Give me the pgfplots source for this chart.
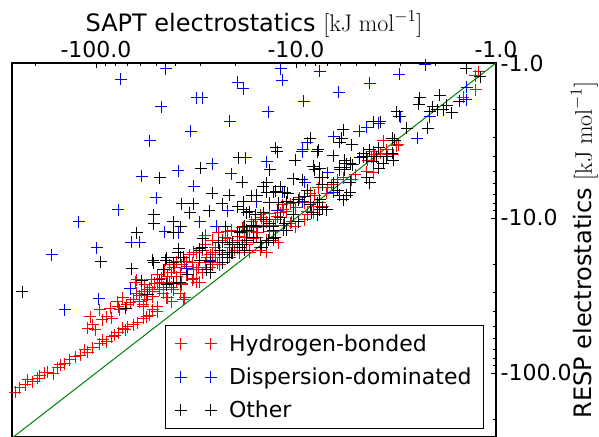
\documentclass[border=0pt]{standalone}
\usepackage{fix-cm}
\usepackage[no-math]{fontspec}
\setmainfont{DejaVu Sans}
\usepackage{pgfplots}
\pgfplotsset{compat=1.18}
\definecolor{mplgreen}{rgb}{0,0.5,0}
\newcommand\mplfont{\fontsize{16.5pt}{19.8pt}\selectfont}
\newcommand\mpllabelfont{\fontsize{18pt}{21.6pt}\selectfont}

% magnitudes of the electrostatic energies (kJ/mol): SAPT, RESP
\pgfplotstableread{
sapt resp
254 133
240 125
226 119
219 111
207 114
195 108
191 104.5
180 100
174 98.6
164 101
155 92.9
151 88.7
143 87.5
135 82.4
127 78.9
120 76.6
114 71.1
110 73.3
104 69.0
95.5 65.0
92.3 61.2
88.1 63.1
83.2 58.6
80.4 56.9
77.6 55.2
73.3 51.3
71.6 52.8
69.2 50.5
65.3 49.0
61.7 47.6
58.2 44.2
55.6 43.5
53.7 42.3
51.9 39.2
49.5 40.4
110 51.3
107 43.5
104 49.0
101 52.8
95.5 39.2
93.3 45.5
88.1 43.5
85.1 38.1
83.2 44.2
78.5 34.8
77.6 37.5
75.9 39.2
73.3 32.8
70.0 36.4
67.6 35.3
65.3 33.8
62.4 30.5
60.3 34.8
60.3 31.8
58.2 37.5
56.9 31.4
55.0 29.1
53.7 28.3
51.9 30.0
49.5 26.3
47.9 29.1
47.9 25.9
46.2 27.9
44.2 32.8
43.7 23.7
42.7 25.9
41.2 29.1
40.3 21.0
39.4 24.0
37.2 26.3
35.9 32.8
35.9 19.2
35.1 20.7
33.9 17.3
33.1 19.5
32.7 24.4
31.3 21.6
30.2 25.9
29.2 22.6
28.5 19.5
28.5 14.9
27.9 17.9
26.9 21.0
26.3 13.9
26.0 16.8
25.4 15.6
24.8 19.5
24.0 16.1
23.4 13.9
22.1 18.1
21.9 13.5
21.4 15.4
20.9 12.0
20.7 16.8
19.7 15.6
19.5 13.1
19.1 13.9
18.6 11.6
17.6 14.9
17.0 16.6
17.0 12.3
16.6 10.6
15.8 11.6
15.7 13.3
15.1 15.4
14.8 10.0
14.1 10.6
14.0 13.9
13.5 9.42
13.0 12.3
12.6 10.3
11.7 8.24
11.6 11.1
11.2 9.15
10.7 10.8
10.7 8.12
10.0 8.62
9.55 7.43
9.02 8.00
8.04 7.11
7.76 6.40
6.61 6.12
6.17 5.68
63.8 25.9
62.4 25.1
28.5 12.9
24.5 12.5
22.1 12.3
22.6 13.3
19.7 13.9
19.1 14.9
18.0 13.3
17.4 12.3
17.6 14.5
32.7 16.6
31.3 16.8
29.2 16.1
26.9 17.3
25.4 17.9
24.0 18.1
22.1 16.8
21.4 17.9
20.2 16.1
19.1 16.8
36.7 17.9
35.1 19.2
39.4 19.2
37.2 20.1
42.7 20.1
41.2 21.0
45.2 21.6
41.7 22.6
49.0 23.3
46.8 24.4
52.5 25.1
50.7 26.3
56.9 27.0
58.9 30.0
38.0 22.6
35.1 23.3
32.7 21.6
30.9 21.0
26.0 20.1
24.0 20.1
33.1 25.1
31.3 25.9
39.4 25.9
37.2 27.0
44.2 26.3
41.7 27.9
46.2 30.5
51.9 32.3
55.6 33.8
58.2 36.4
38.0 30.5
36.7 33.8
43.7 32.8
41.7 34.8
49.5 37.5
18.4 11.4
16.0 10.3
15.1 9.56
14.6 11.1
15.5 12.5
16.4 13.5
17.6 13.9
13.5 12.3
13.0 11.1
12.0 9.28
11.6 8.88
10.5 10.6
10.1 11.4
9.02 10.3
8.71 9.56
8.22 9.28
7.59 8.00
7.33 8.49
7.00 6.90
15.1 16.1
14.0 16.6
17.0 16.1
13.0 13.9
12.3 14.5
12.4 9.85
3.67 3.18
3.09 3.38
3.51 3.64
3.27 3.92
3.80 3.81
4.17 4.04
4.37 4.23
4.12 3.75
5.07 5.28
5.82 5.52
5.25 5.68
6.92 6.40
8.51 6.90
8.22 8.49
8.81 9.15
1.22 1.14
1.27 1.21
1.26 1.49
1.46 1.66
4.03 3.92
3.47 3.92
3.13 3.43
4.42 5.05
4.12 5.12
}\hbonded

\pgfplotstableread{
sapt resp
44.7 1.09
75.0 1.27
11.9 1.09
11.7 1.29
19.5 1.33
18.4 1.47
31.3 1.68
29.5 1.68
47.3 1.92
13.8 2.07
21.4 2.37
33.5 2.75
53.7 3.18
17.8 4.10
14.0 4.35
26.3 4.48
38.9 4.97
58.9 5.36
21.1 5.20
32.4 6.22
11.7 6.80
50.1 7.43
15.8 7.88
77.6 8.88
21.9 9.01
12.4 9.01
122 10.6
166 17.3
98.9 15.6
66.8 14.3
60.3 14.3
45.2 12.3
38.9 12.5
96.6 33.3
143 39.2
67.6 28.7
48.4 25.1
35.1 21.3
30.2 10.6
25.1 11.3
20.9 16.8
11.6 12.0
7.59 1.13
4.27 1.35
3.05 1.18
2.26 1.03
6.10 1.54
9.12 1.76
3.02 2.23
3.85 2.44
4.42 2.59
4.84 2.75
6.46 3.00
8.81 3.28
9.23 3.59
2.14 2.23
2.48 3.05
1.40 1.43
1.41 1.73
6.53 6.80
9.02 5.86
9.23 7.88
5.75 4.69
4.62 4.04
9.33 3.75
6.92 5.12
26.9 18.7
}\dispersion

\pgfplotstableread{
sapt resp
12.6 3.53
12.4 3.75
19.3 4.10
10.1 4.23
29.9 4.76
13.5 4.90
47.9 5.52
10.35 5.60
18.6 5.86
14.6 6.31
14.0 6.80
12.6 6.70
12.0 6.31
26.3 6.90
21.6 7.11
16.6 7.21
18.2 7.88
37.2 8.12
32.7 8.12
23.4 8.12
19.5 8.49
13.6 8.00
12.3 8.00
27.2 9.01
33.9 9.28
51.3 9.56
17.6 9.28
14.6 9.28
234 30.0
94.4 19.2
62.4 12.5
51.3 10.9
41.2 10.6
37.6 11.4
41.2 12.5
66.1 21.3
58.9 25.5
51.9 18.7
44.2 18.1
38.5 15.8
38.0 17.9
51.3 19.5
46.2 21.6
30.2 16.1
29.5 15.6
29.2 13.5
22.6 11.4
19.5 12.3
16.4 11.1
14.6 11.3
13.0 11.4
24.3 14.5
21.4 14.9
18.6 14.9
34.7 23.3
44.2 27.0
41.2 26.3
38.0 25.9
55.0 31.4
70.8 38.1
30.2 18.7
26.9 19.2
23.2 17.3
20.7 16.8
16.4 13.3
15.1 14.5
14.0 14.5
13.0 13.5
11.1 12.0
36.7 17.9
18.0 11.3
23.4 14.3
20.7 14.3
30.5 15.8
24.0 16.1
21.4 16.6
44.7 18.7
41.2 19.5
38.9 16.8
27.9 21.6
26.9 22.6
23.2 19.5
22.1 18.1
19.1 12.5
17.6 13.9
6.53 3.98
7.85 3.75
8.22 4.62
7.59 4.76
6.03 4.90
5.62 4.48
9.33 5.68
14.0 5.94
13.0 6.80
15.7 7.11
18.4 8.88
11.4 6.80
11.0 6.90
7.59 5.52
7.41 6.12
6.53 5.94
6.03 7.11
5.82 7.65
11.1 7.88
10.35 8.00
9.77 7.65
8.51 8.24
7.85 8.00
7.41 8.62
7.00 8.88
8.32 9.28
7.85 9.56
17.0 9.15
16.0 9.56
14.6 10.3
13.5 10.8
12.0 10.0
11.4 10.8
13.0 12.0
12.7 13.3
10.35 9.56
9.77 10.6
13.8 13.9
14.8 15.4
17.6 12.0
16.6 11.4
19.1 15.6
18.0 16.1
2.40 1.68
2.43 1.84
1.91 1.61
2.07 1.92
1.97 2.01
1.76 1.87
1.84 2.01
2.14 2.07
3.13 2.07
3.05 2.20
4.12 2.40
3.80 2.40
5.82 2.70
2.79 2.63
2.19 2.63
5.89 3.05
5.25 3.38
3.31 3.05
3.20 3.14
3.85 3.53
3.94 4.04
4.12 4.35
4.62 3.81
4.42 4.04
4.79 4.10
3.31 3.81
3.27 4.23
5.69 4.23
5.37 4.42
5.19 4.55
6.03 4.69
5.69 4.90
3.85 4.76
4.42 5.52
5.37 6.80
5.56 7.11
6.03 3.24
1.41 1.08
1.53 1.76
1.66 2.10
8.51 3.05
7.76 3.64
4.27 3.64
3.51 4.04
8.04 4.90
3.67 4.42
7.33 5.44
6.17 6.60
5.37 5.86
8.81 6.60
9.02 7.32
7.59 7.65
7.59 8.88
4.27 5.94
1.20 1.23
}\other

\begin{document}
\begin{tikzpicture}
\begin{axis}[
  scale only axis,
  width=363pt, height=280.5pt,
  xmode=log, ymode=log,
  x dir=reverse, y dir=reverse,
  xmin=1, xmax=263, ymin=1, ymax=259,
  xtick={1,10,100}, xticklabels={-1.0,-10.0,-100.0},
  ytick={1,10,100}, yticklabels={-1.0,-10.0,-100.0},
  minor xtick={2,3,4,5,6,7,8,9,20,30,40,50,60,70,80,90,200},
  minor ytick={2,3,4,5,6,7,8,9,20,30,40,50,60,70,80,90,200},
  xtick pos=right, xticklabel pos=right,
  ytick pos=right, yticklabel pos=right,
  tick align=inside,
  major tick length=4pt, minor tick length=2pt,
  tick style={black, line width=0.6pt},
  axis line style={line width=0.8pt},
  tick label style={font=\mplfont},
  label style={font=\mpllabelfont},
  xlabel={SAPT electrostatics $[\mathrm{kJ}\;\mathrm{mol}^{-1}]$},
  ylabel={RESP electrostatics $[\mathrm{kJ}\;\mathrm{mol}^{-1}]$},
  xlabel style={at={(ticklabel cs:0.5,-3.5pt)}},
  ylabel style={at={(ticklabel cs:0.5,-7.5pt)}},
  legend style={at={(1,0)}, anchor=south east, xshift=-9pt, yshift=6pt,
    draw=black, line width=0.75pt, font=\mplfont,
    inner xsep=7pt, inner ysep=4.5pt, row sep=7pt},
  legend cell align=left,
  mplmark/.style={only marks, mark=+, mark size=4.5pt,
    color=#1, mark options={line width=0.75pt, draw=#1},
    legend image code/.code={%
      \draw[draw=#1, line width=0.75pt]
        plot[only marks, mark=+, mark size=4.5pt] coordinates {(0pt,0pt) (22.5pt,0pt)};
      \path (34pt,0pt);}},
]
\addplot[mplmark=red] table[x=sapt, y=resp] {\hbonded};
\addlegendentry{Hydrogen-bonded}
\addplot[mplmark=blue] table[x=sapt, y=resp] {\dispersion};
\addlegendentry{Dispersion-dominated}
\addplot[mplmark=black] table[x=sapt, y=resp] {\other};
\addlegendentry{Other}
% parity line y = x
\addplot[mplgreen, line width=0.75pt, forget plot] coordinates {(1,1) (263,263)};
\end{axis}
\pgfresetboundingbox
\path[use as bounding box] ([xshift=-9pt,yshift=0.75pt]current axis.south west)
  rectangle ([xshift=77.25pt,yshift=47.25pt]current axis.north east);
\end{tikzpicture}
\end{document}
